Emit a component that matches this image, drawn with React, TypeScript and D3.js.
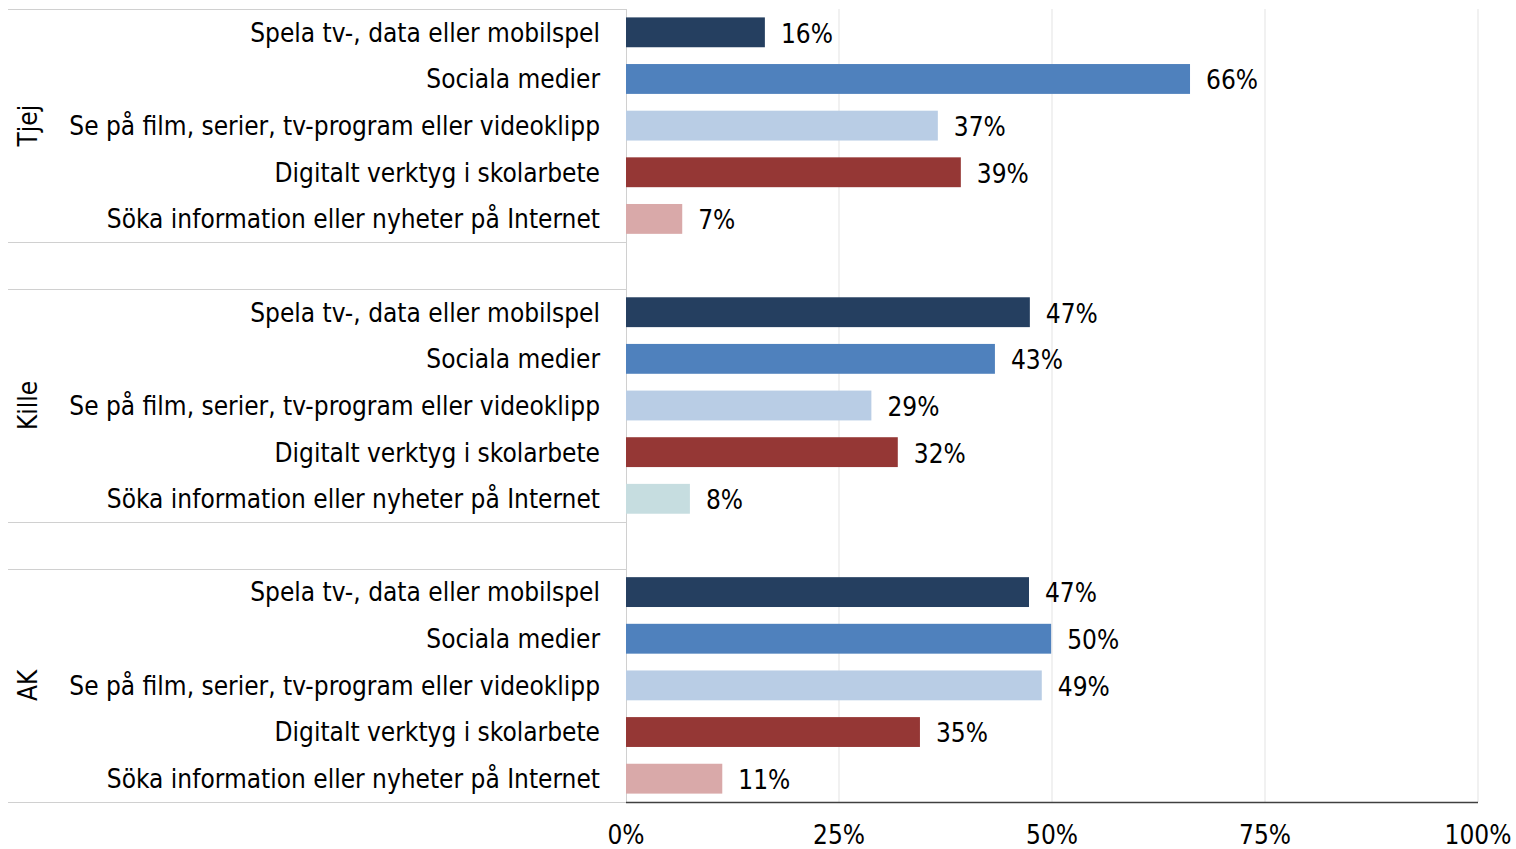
import { useEffect, useRef } from "react";
import * as d3 from "d3";

const GROUPS = ["Tjej", "Kille", "AK"];
const CATEGORIES = [
  "Spela tv-, data eller mobilspel",
  "Sociala medier",
  "Se på film, serier, tv-program eller videoklipp",
  "Digitalt verktyg i skolarbete",
  "Söka information eller nyheter på Internet",
];
const TJEJ = [16.3, 66.2, 36.6, 39.3, 6.6];
const KILLE = [47.4, 43.3, 28.8, 31.9, 7.5];
const AK = [47.3, 49.9, 48.8, 34.5, 11.3];
const VALUES = [TJEJ, KILLE, AK];
const TICKS = [0, 25, 50, 75, 100];
const COLORS = ["#253f60", "#4f81bd", "#b9cde5", "#953735", "#d9a9a9"];
const KILLE_LAST = "#c6dde0";

const W = 1516;
const H = 849;
const M = { top: 9, left: 626, right: 38, bottom: 47 };
const FONT = "'DejaVu Sans Condensed', 'DejaVu Sans', sans-serif";
const FS = 26;

const App = () => {
  const ref = useRef<SVGSVGElement | null>(null);

  useEffect(() => {
    const svg = d3.select(ref.current);
    svg.selectAll("*").remove();

    const x = d3.scaleLinear().domain([0, 100]).range([M.left, W - M.right]);
    const slots: string[] = [];
    GROUPS.forEach((g, gi) => {
      CATEGORIES.forEach((c, ci) => slots.push(`${gi}-${ci}`));
      if (gi < GROUPS.length - 1) slots.push(`gap-${gi}`);
    });
    const y = d3
      .scaleBand()
      .domain(slots)
      .range([M.top, H - M.bottom])
      .paddingInner(0.36)
      .paddingOuter(0.18);
    const step = y.step();
    const off = (step - y.bandwidth()) / 2;

    // gridlines
    svg
      .append("g")
      .selectAll("line")
      .data(TICKS.slice(1))
      .join("line")
      .attr("x1", (d) => x(d))
      .attr("x2", (d) => x(d))
      .attr("y1", M.top)
      .attr("y2", H - M.bottom)
      .attr("stroke", "#e3e3e3")
      .attr("stroke-width", 1);

    // left vertical line
    svg
      .append("line")
      .attr("x1", M.left + 0.5)
      .attr("x2", M.left + 0.5)
      .attr("y1", M.top)
      .attr("y2", H - M.bottom)
      .attr("stroke", "#d0d0d0");

    // group separators
    const seps: number[] = [];
    GROUPS.forEach((g, gi) => {
      const first = y(`${gi}-0`)! - off;
      const last = y(`${gi}-4`)! - off + step;
      seps.push(first, last);
    });
    svg
      .append("g")
      .selectAll("line")
      .data(seps)
      .join("line")
      .attr("x1", 8)
      .attr("x2", M.left)
      .attr("y1", (d) => Math.round(d) + 0.5)
      .attr("y2", (d) => Math.round(d) + 0.5)
      .attr("stroke", "#d0d0d0");

    // bars
    GROUPS.forEach((g, gi) => {
      const grp = svg.append("g");
      const data = VALUES[gi].map((v, ci) => ({ v, ci }));
      grp
        .selectAll("rect")
        .data(data)
        .join("rect")
        .attr("x", x(0))
        .attr("y", (d) => y(`${gi}-${d.ci}`)!)
        .attr("width", (d) => x(d.v) - x(0))
        .attr("height", y.bandwidth())
        .attr("fill", (d) => (gi === 1 && d.ci === 4 ? KILLE_LAST : COLORS[d.ci]));
      grp
        .selectAll("text.val")
        .data(data)
        .join("text")
        .attr("class", "val")
        .attr("x", (d) => x(d.v) + 16)
        .attr("y", (d) => y(`${gi}-${d.ci}`)! + y.bandwidth() / 2 + 1)
        .attr("dy", "0.36em")
        .attr("font-family", FONT)
        .attr("font-size", FS)
        .attr("fill", "#000")
        .text((d) => `${Math.round(d.v)}%`);
      grp
        .selectAll("text.cat")
        .data(CATEGORIES)
        .join("text")
        .attr("class", "cat")
        .attr("x", M.left - 26)
        .attr("y", (d, ci) => y(`${gi}-${ci}`)! + y.bandwidth() / 2)
        .attr("dy", "0.36em")
        .attr("text-anchor", "end")
        .attr("font-family", FONT)
        .attr("font-size", FS)
        .attr("fill", "#000")
        .text((d) => d);
      const cy = (y(`${gi}-0`)! - off + y(`${gi}-4`)! - off + step) / 2;
      grp
        .append("text")
        .attr("transform", `translate(28,${cy}) rotate(-90)`)
        .attr("dy", "0.36em")
        .attr("text-anchor", "middle")
        .attr("font-family", FONT)
        .attr("font-size", FS)
        .attr("fill", "#000")
        .text(g);
    });

    // bottom axis
    svg
      .append("line")
      .attr("x1", M.left)
      .attr("x2", W - M.right)
      .attr("y1", H - M.bottom + 0.5)
      .attr("y2", H - M.bottom + 0.5)
      .attr("stroke", "#404040")
      .attr("stroke-width", 1.5);
    svg
      .append("g")
      .selectAll("text")
      .data(TICKS)
      .join("text")
      .attr("x", (d) => x(d))
      .attr("y", 835)
      .attr("dy", "0.36em")
      .attr("text-anchor", "middle")
      .attr("font-family", FONT)
      .attr("font-size", FS)
      .attr("fill", "#000")
      .text((d) => `${d}%`);
  }, []);

  return (
    <svg
      ref={ref}
      width={W}
      height={H}
      style={{ position: "absolute", left: 0, top: 0, background: "#fff" }}
    />
  );
};

export default App;
